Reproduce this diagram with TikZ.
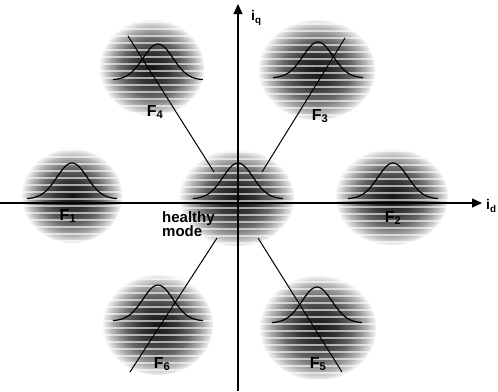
\documentclass[tikz,border=0pt]{standalone}
\usepackage{fontspec}
\setmainfont{Liberation Sans}
\usetikzlibrary{arrows.meta}
\pgfdeclareradialshading{blobshade}{\pgfpoint{0bp}{0bp}}{color(0bp)=(black!92); color(8bp)=(black!80); color(15bp)=(black!60); color(21bp)=(black!30); color(25bp)=(black!5); color(50bp)=(white)}
\tikzset{
  axis/.style={line width=1.3pt, -{Triangle[length=10pt,width=9pt]}},
  link/.style={line width=1pt},
  bell/.style={line width=1.2pt},
  flabel/.style={font=\bfseries\fontsize{16}{16}\selectfont, inner sep=0pt},
  axlabel/.style={font=\bfseries\fontsize{14}{14}\selectfont, inner sep=0pt},
  hlabel/.style={font=\bfseries\fontsize{15}{14}\selectfont, inner sep=0pt, align=left},
}
\newcommand\myblob[6]{% cx, cy, rx, ry, peak x, peak y
  \begin{scope}
    \clip (#1,#2) ellipse [x radius=#3, y radius=#4];
    \shade[shading=blobshade] (#1,#2) ellipse [x radius=#3, y radius=#4];
    \foreach \k in {-8,...,8}
      \draw[white, line width=2.6pt, opacity=0.6] (#1-#3, #2+7*\k+3) -- (#1+#3, #2+7*\k+3);
  \end{scope}
  \draw[bell] plot[domain=-1:1, samples=41, smooth] ({#5+45*\x}, {#6+36*(1-exp(-4.5*\x*\x))});
}
\begin{document}
\begin{tikzpicture}[x=1pt, y=-1pt]
  \useasboundingbox (0,0) rectangle (498,391);
  % clusters
  \myblob{237}{198}{57}{48}{238}{163}
  \myblob{72}{196}{50}{47}{72}{163}
  \myblob{392}{197}{56}{48}{393}{163}
  \myblob{152}{68}{52}{48}{158}{44}
  \myblob{317}{70}{58}{50}{318}{42}
  \myblob{158}{325}{55}{50}{158}{285}
  \myblob{318}{328}{58}{52}{317}{287}
  % axes
  \coordinate (xs) at (0,203);
  \coordinate (xe) at (482,203);
  \coordinate (ys) at (238,391);
  \coordinate (ye) at (238,4);
  \draw[axis] (xs) -- (xe);
  \draw[axis] (ys) -- (ye);
  % links
  \coordinate (a1) at (128,36);  \coordinate (a2) at (214,172);
  \coordinate (b1) at (345,38);  \coordinate (b2) at (262,172);
  \coordinate (c1) at (217,238); \coordinate (c2) at (130,372);
  \coordinate (d1) at (258,238); \coordinate (d2) at (342,372);
  \draw[link] (a1) -- (a2);
  \draw[link] (b1) -- (b2);
  \draw[link] (c1) -- (c2);
  \draw[link] (d1) -- (d2);
  % labels
  \node[axlabel, anchor=west] (iq) at (251,18) {i\textsubscript{q}};
  \node[axlabel, anchor=west] (id) at (486,206) {i\textsubscript{d}};
  \node[hlabel, anchor=north west] (healthy) at (162,211) {healthy\\mode};
  \node[flabel] (f1) at (68,216) {F\textsubscript{1}};
  \node[flabel] (f2) at (393,218) {F\textsubscript{2}};
  \node[flabel] (f3) at (320,116) {F\textsubscript{3}};
  \node[flabel] (f4) at (155,112) {F\textsubscript{4}};
  \node[flabel] (f5) at (318,364) {F\textsubscript{5}};
  \node[flabel] (f6) at (162,364) {F\textsubscript{6}};
\end{tikzpicture}
\end{document}
